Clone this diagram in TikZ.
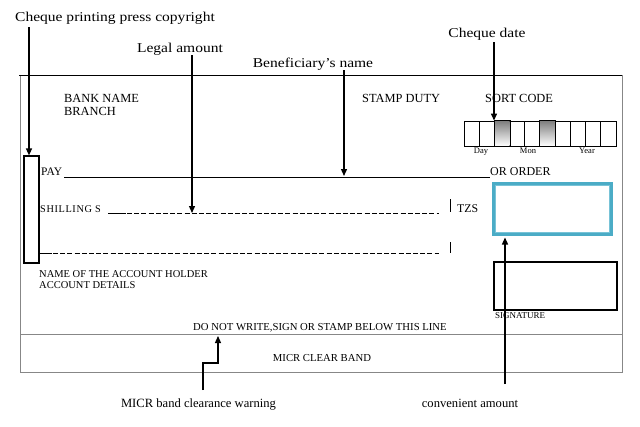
\documentclass[tikz,border=0pt]{standalone}
\usepackage{fontspec}
\setmainfont{Liberation Serif}
\newfontfamily\annot[FakeStretch=1.15]{Liberation Serif}
\usetikzlibrary{arrows.meta,calc}
\definecolor{tealA}{RGB}{75,172,198}
\definecolor{tealB}{RGB}{120,195,215}
\definecolor{framegray}{RGB}{135,135,135}
\definecolor{shade}{RGB}{150,150,150}
\tikzset{
  lbl/.style={inner sep=0pt, anchor=base, font=\annot\fontsize{13.5}{16}\selectfont},
  lbltwo/.style={inner sep=0pt, anchor=base, font=\fontsize{12.6}{15}\selectfont},
  ct/.style={inner sep=0pt, anchor=base west},
  cc/.style={inner sep=0pt, anchor=base},
  arr/.style={-{Triangle[length=7pt,width=6pt]}, line width=1.3pt},
  boxline/.style={draw=black, line width=1.2pt, inner sep=0pt},
  dateboxstyle/.style={draw=black, line width=0.9pt, inner sep=0pt, minimum width=15.2pt, minimum height=25pt},
  dashline/.style={line width=0.9pt, dash pattern=on 5pt off 2.2pt},
}
\begin{document}
\begin{tikzpicture}[x=1pt,y=-1pt]
\useasboundingbox (0,0) rectangle (640,426);
\fill[white] (0,0) rectangle (640,426);

% cheque frame
\draw[framegray, line width=0.9pt] (20,75) -- (20,372) -- (622,372) -- (622,75);
\coordinate (mline) at (20,334);
\draw[framegray, line width=0.9pt] (mline) -- (622,334);
\draw[black, line width=1pt] (19,75) -- (622,75);

% boxes
\node[boxline, minimum width=15pt, minimum height=107pt] (cbox) at (31.5,209.5) {};
\node[boxline, minimum width=123pt, minimum height=48pt] (sig) at (555.5,286) {};
\node[draw=tealA, line width=3.6pt, inner sep=0pt, minimum width=117.4pt, minimum height=50.4pt] (amt) at (552.5,209) {};
\draw[tealB, line width=1pt] ($(amt.north west)+(3.4,3.4)$) rectangle ($(amt.south east)+(-3.4,-3.4)$);

% date boxes
\foreach \i in {0,...,9} {
  \node[dateboxstyle] (d\i) at ({464+15.2*\i+7.6},133.5) {};
}
\foreach \i in {2,5} {
  \fill[shade] ($(d\i.north west)+(0.5,0.5)$) rectangle ($(d\i.south east)+(-0.5,-0.5)$);
  \draw[black, line width=0.9pt] (d\i.north west) rectangle (d\i.south east);
}
\node[cc, font=\fontsize{8.5}{10}\selectfont] (tday) at (481,153) {Day};
\node[cc, font=\fontsize{8.5}{10}\selectfont] (tmon) at (528,153) {Mon};
\node[cc, font=\fontsize{8.5}{10}\selectfont] (tyear) at (587,153) {Year};

% cheque texts
\node[ct, font=\fontsize{12.4}{14}\selectfont] (bank) at (64,102) {BANK NAME};
\node[ct, font=\fontsize{12.4}{14}\selectfont] (branch) at (64,115) {BRANCH};
\node[ct, font=\fontsize{12.4}{14}\selectfont] (stamp) at (362,102) {STAMP DUTY};
\node[ct, font=\fontsize{12.4}{14}\selectfont] (sort) at (485,102) {SORT CODE};
\node[ct, font=\fontsize{11.5}{13}\selectfont] (pay) at (41,175) {PAY};
\node[ct, font=\fontsize{12}{14}\selectfont] (order) at (490,175) {OR ORDER};
\node[ct, font=\fontsize{10.3}{12}\addfontfeature{LetterSpace=6}] (shil) at (40,212) {SHILLING S};
\node[ct, font=\fontsize{11.8}{14}\selectfont] (tzs) at (457,212) {TZS};
\node[ct, font=\fontsize{10.5}{12}\selectfont] (holder) at (39,277) {NAME OF THE ACCOUNT HOLDER};
\node[ct, font=\fontsize{10.5}{12}\selectfont] (details) at (39,288) {ACCOUNT DETAILS};
\node[ct, font=\fontsize{9}{10}\selectfont] (signt) at (495,318) {SIGNATURE};
\node[cc, font=\fontsize{10.7}{12}\selectfont] (donot) at (320,330) {DO NOT WRITE,SIGN OR STAMP BELOW THIS LINE};
\node[cc, font=\fontsize{10.7}{12}\selectfont] (micrband) at (322,361) {MICR CLEAR BAND};

% writing lines
\coordinate (payA) at (64,177);
\coordinate (payB) at (490,177);
\draw[line width=0.9pt] (payA) -- (payB);
\coordinate (dA) at (108,213);
\coordinate (dB) at (439,213);
\draw[line width=0.9pt] (dA) -- (126,213);
\draw[dashline] (127,213) -- (dB);
\coordinate (eA) at (40,253);
\coordinate (eB) at (439,253);
\draw[line width=0.9pt] (eA) -- (52,253);
\draw[dashline] (53,253) -- (eB);
\draw[line width=0.9pt] (450,199) -- (450,212);
\draw[line width=0.9pt] (450,242) -- (450,253);

% annotation labels
\node[lbl] (lcopy) at (115,21) {Cheque printing press copyright};
\node[lbl] (llegal) at (180,52) {Legal amount};
\node[lbl] (lbene) at (313,67) {Beneficiary’s name};
\node[lbl] (ldate) at (487,37) {Cheque date};
\node[lbltwo] (lmicr) at (198.5,407) {MICR band clearance warning};
\node[lbltwo] (lconv) at (470,407) {convenient amount};

% arrows
\coordinate (s1) at (29,27);
\draw[arr] (s1) -- (s1 |- cbox.north);
\coordinate (s2) at (192,55);
\draw[arr] (s2) -- (s2 |- dA);
\coordinate (s3) at (344,70);
\draw[arr] (s3) -- ($(s3 |- payA)+(0,-1)$);
\coordinate (s4) at (494,42);
\draw[arr] (s4) -- (s4 |- d2.north);
\coordinate (s5) at (505,384);
\draw[arr] (s5) -- ($(s5 |- amt.south)+(0,1.5)$);
\coordinate (s6) at (203,390);
\coordinate (k6) at (218,363);
\draw[arr] (s6) |- (k6) -- ($(k6 |- mline)+(0,2)$);
\end{tikzpicture}
\end{document}
